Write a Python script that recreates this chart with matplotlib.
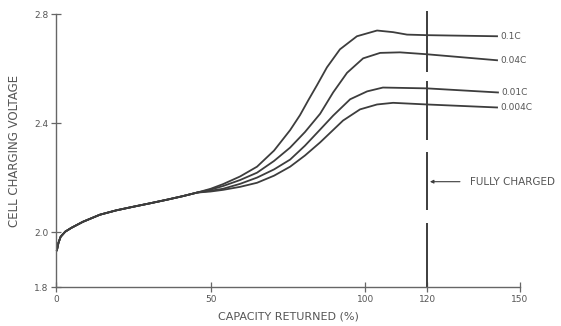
import matplotlib
matplotlib.use("Agg")
import matplotlib.pyplot as plt

# shared low part of all four curves (capacity %, volts)
base_x = [0.3, 0.8, 1.5, 3.0, 5.0, 8.7, 14.2, 19.5, 24.9, 30.5, 35.9, 41.0, 45.6]
base_y = [1.935, 1.962, 1.984, 2.003, 2.017, 2.039, 2.065, 2.081, 2.094, 2.107, 2.120, 2.133, 2.146]

rates = ["0.1C", "0.04C", "0.01C", "0.004C"]
upper_x = [
    [50.0, 54.0, 59.5, 65.0, 70.5, 75.7, 78.9, 81.6, 84.4, 87.6, 91.8, 97.3, 103.8, 109.0, 113.5, 119.9, 142.6],
    [50.0, 54.0, 59.5, 65.0, 70.5, 75.7, 80.5, 85.4, 89.6, 94.1, 99.3, 104.8, 111.2, 119.9, 142.6],
    [50.0, 54.0, 59.5, 65.0, 70.5, 75.7, 80.5, 85.4, 89.6, 95.1, 100.6, 105.7, 119.9, 142.9],
    [50.0, 54.0, 59.5, 65.0, 70.5, 75.7, 80.5, 85.4, 92.8, 98.3, 103.8, 109.0, 119.9, 142.6],
]
upper_y = [
    [2.160, 2.177, 2.205, 2.241, 2.300, 2.375, 2.430, 2.485, 2.540, 2.605, 2.671, 2.719, 2.740, 2.734, 2.725, 2.723, 2.719],
    [2.157, 2.170, 2.192, 2.219, 2.262, 2.311, 2.368, 2.435, 2.513, 2.585, 2.638, 2.658, 2.660, 2.653, 2.631],
    [2.153, 2.160, 2.178, 2.201, 2.231, 2.267, 2.318, 2.377, 2.428, 2.488, 2.517, 2.531, 2.528, 2.513],
    [2.150, 2.156, 2.167, 2.182, 2.208, 2.241, 2.282, 2.330, 2.410, 2.451, 2.469, 2.475, 2.469, 2.458],
]

full_x = 120
full_seg_lo = [2.587, 2.340, 2.083, 1.8]
full_seg_hi = [2.811, 2.554, 2.296, 2.035]
arrow_y = 2.186

x_ticks = [0, 50, 100, 120, 150]
y_ticks = [1.8, 2.0, 2.4, 2.8]

ink = "#3d3d3d"
txt = "#555555"

fig = plt.figure(figsize=(5.61, 3.26), dpi=100)
ax = fig.add_axes([0.0998, 0.1196, 0.827, 0.837])

for i in range(len(rates)):
    xs = base_x + upper_x[i]
    ys = base_y + upper_y[i]
    ax.plot(xs, ys, color=ink, lw=1.3, clip_on=False, solid_joinstyle="round")
    ax.text(xs[-1] + 1.2, ys[-1], rates[i], fontsize=6.5, color=txt,
            va="center", ha="left")

ax.vlines([full_x] * len(full_seg_lo), full_seg_lo, full_seg_hi,
          color=ink, lw=1.4, clip_on=False)
ax.annotate("", xy=(full_x, arrow_y), xytext=(131.5, arrow_y),
            arrowprops=dict(arrowstyle="-|>", color=ink, lw=0.8,
                            mutation_scale=5))
ax.text(134, arrow_y, "FULLY CHARGED", fontsize=7.5, color=txt,
        va="center", ha="left")

ax.set_xlim(0, 150)
ax.set_ylim(1.8, 2.8)
ax.set_xticks(x_ticks)
ax.set_xticklabels([str(t) for t in x_ticks])
ax.set_yticks(y_ticks)
ax.set_yticklabels(["%.1f" % t for t in y_ticks])
for s in ["top", "right"]:
    ax.spines[s].set_visible(False)
for s in ["left", "bottom"]:
    ax.spines[s].set_color("#666666")
    ax.spines[s].set_linewidth(1.0)
ax.tick_params(direction="inout", length=7, width=0.9, colors="#666666",
               labelsize=6.5, labelcolor=txt, pad=2)

ax.set_xlabel("CAPACITY RETURNED (%)", fontsize=8, color=txt, labelpad=6)
ax.set_ylabel("CELL CHARGING VOLTAGE", fontsize=8.5, color=txt, labelpad=9)

fig.savefig("out.png", dpi=100, facecolor="white")
